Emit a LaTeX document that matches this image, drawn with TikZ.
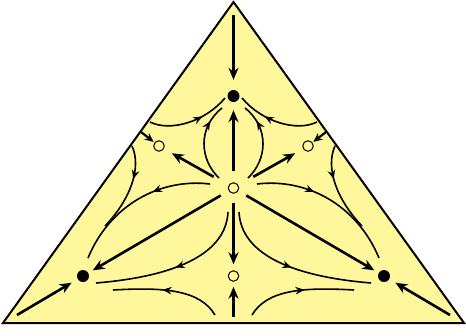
\documentclass[tikz,border=0pt]{standalone}
\usetikzlibrary{arrows.meta,decorations.markings}
\definecolor{fillyellow}{RGB}{255,247,155}
\begin{document}
\begin{tikzpicture}[x=1pt,y=-1pt,
  big/.style={line width=2.6pt,-{Stealth[length=12pt,width=10pt]}},
  flow/.style={line width=1.6pt,postaction={decorate},
    decoration={markings,mark=at position #1 with {\arrow{Stealth[length=9pt,width=7.5pt]}}}},
  sinkpt/.style={circle,fill=black,inner sep=0pt,minimum size=12pt},
  sourcept/.style={circle,draw=black,line width=1pt,inner sep=0pt,minimum size=10.5pt}]
\fill[white] (0,0) rectangle (466,335);
\useasboundingbox (0,0) rectangle (466,335);
\draw[line width=2pt,fill=fillyellow,line join=miter] (233.5,2) -- (3,323) -- (464,323) -- cycle;

% fixed points
\node[sinkpt] (T) at (233.5,96) {};
\node[sourcept] (C) at (233.5,188) {};
\node[sourcept] (B) at (233.5,276) {};
\node[sinkpt] (L) at (83,276) {};
\node[sinkpt] (R) at (384,276) {};
\node[sourcept] (LO) at (159,146) {};
\node[sourcept] (RO) at (308,146) {};

% free ends
\coordinate (apex) at (233.5,15);
\coordinate (bot) at (233.5,317);
\coordinate (cl) at (17,315);
\coordinate (cr) at (450,315);
\coordinate (el) at (141,132);
\coordinate (er) at (326,132);

% straight arrows
\draw[big,shorten >=10pt] (apex) -- (T);
\draw[big,shorten <=11pt,shorten >=8pt] (C) -- (T);
\draw[big,shorten <=9pt,shorten >=6pt] (C) -- (B);
\draw[big,shorten >=5pt] (bot) -- (B);
\draw[big,shorten <=17pt,shorten >=9pt] (C) -- (LO);
\draw[big,shorten <=17pt,shorten >=9pt] (C) -- (RO);
\draw[big,shorten <=9pt,shorten >=5pt] (C) -- (L);
\draw[big,shorten <=9pt,shorten >=5pt] (C) -- (R);
\draw[big,shorten >=7pt] (cl) -- (L);
\draw[big,shorten >=7pt] (cr) -- (R);
\draw[line width=2.2pt,-{Stealth[length=9pt,width=8pt]},shorten >=1pt] (el) -- (LO);
\draw[line width=2.2pt,-{Stealth[length=9pt,width=8pt]},shorten >=1pt] (er) -- (RO);

% flow lines, left half
\draw[flow=0.65] (150,122) .. controls (170,132) and (205,122) .. (225,98);
\draw[flow=0.78] (219,178) .. controls (200,160) and (197,128) .. (222,108);
\draw[flow=0.38] (132,146) .. controls (142,168) and (130,200) .. (105,226);
\draw[flow=0.38] (210,184) .. controls (160,178) and (110,205) .. (88,258);
\draw[flow=0.5] (228,212) .. controls (226,252) and (180,276) .. (96,283);
\draw[flow=0.55] (215,315) .. controls (200,290) and (165,287) .. (113,290);

% flow lines, right half
\draw[flow=0.65] (317,122) .. controls (297,132) and (262,122) .. (242,98);
\draw[flow=0.78] (248,178) .. controls (267,160) and (270,128) .. (245,108);
\draw[flow=0.38] (335,146) .. controls (325,168) and (337,200) .. (362,226);
\draw[flow=0.38] (257,184) .. controls (307,178) and (357,205) .. (379,258);
\draw[flow=0.5] (239,212) .. controls (241,252) and (287,276) .. (371,283);
\draw[flow=0.55] (252,315) .. controls (267,290) and (302,287) .. (354,290);
\end{tikzpicture}
\end{document}
